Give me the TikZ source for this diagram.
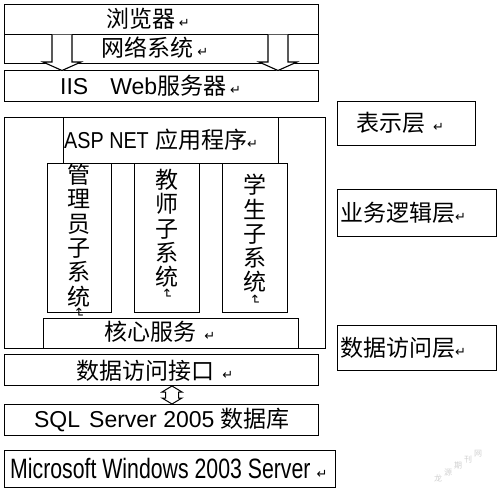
\documentclass[tikz,border=0pt]{standalone}
\usepackage{fontspec}
\setmainfont{Liberation Sans}
\newfontfamily\cjk{Noto Sans CJK SC}
\newfontfamily\dvs{DejaVu Sans}
\usetikzlibrary{positioning}
\newcommand{\rmk}{{\dvs\fontsize{13}{13}\selectfont ↵}}
\newcommand{\vrmk}{\rotatebox{-90}{\dvs\fontsize{13}{13}\selectfont ↵}}
\newcommand{\mkbox}[5]{\node[box, minimum width=#4pt-#2pt, minimum height=#5pt-#3pt] (#1) at (#2,#3) {};}
\begin{document}
\begin{tikzpicture}[x=1pt,y=-1pt,
  box/.style={draw, line width=1.1pt, inner sep=0pt, anchor=north west, fill=white},
  lbl/.style={inner sep=0pt, font=\fontsize{23}{24}\selectfont},
  vlbl/.style={inner sep=0pt, align=center, font=\cjk\fontsize{23}{24.3}\selectfont},
  wmk/.style={inner sep=0pt, text=black!18, font=\cjk\fontsize{8}{8}\selectfont},
  harrow/.style={line width=1.1pt, line join=miter}]
\useasboundingbox (0,0) rectangle (500,492);
\fill[white] (0,0) rectangle (500,492);
% top stack
\mkbox{browser}{4}{4}{318}{34}
\mkbox{net}{4}{34}{318}{63}
\mkbox{iis}{4}{70}{318}{101}
\node[lbl] (tbrowser) at (148,19) {{\cjk 浏览器}\,\rmk};
\node[lbl] (tnet) at (155,48) {{\cjk 网络系统}\,\rmk};
\node[lbl, anchor=west] (tiis) at (60,86) {IIS\hspace{22pt}Web{\cjk 服务器}\,\rmk};
% hollow arrows
\foreach \c/\n in {62/a1,278/a2}{
  \fill[white] (\c-10,34.6) -- (\c-10,62) -- (\c-19,62) -- (\c,71) -- (\c+19,62) -- (\c+10,62) -- (\c+10,34.6) -- cycle;
  \draw[harrow] (\c-10,34.6) -- (\c-10,62) -- (\c-19,62) -- (\c,70.5) -- (\c+19,62) -- (\c+10,62) -- (\c+10,34.6);
}
% business block
\mkbox{outer}{4}{117}{325}{348}
\mkbox{asp}{63}{117}{278}{163}
\node[lbl, anchor=west] (tasp) at (64,140) {\scalebox{0.86}[1]{ASP NET} {\cjk 应用程序}\rmk};
\mkbox{admin}{47}{163}{111}{312}
\mkbox{teacher}{134}{163}{199}{312}
\mkbox{student}{222}{163}{287}{312}
\node[vlbl, anchor=north] (tadmin) at (79,164) {管\\理\\员\\子\\系\\统};
\node[inner sep=0pt] (madmin) at (79,313) {\vrmk};
\node[vlbl, anchor=north] (tteacher) at (167,169) {教\\师\\子\\系\\统};
\node[inner sep=0pt, below=1pt of tteacher] (mteacher) {\vrmk};
\node[vlbl, anchor=north] (tstudent) at (255,174) {学\\生\\子\\系\\统};
\node[inner sep=0pt, below=1pt of tstudent] (mstudent) {\vrmk};
\mkbox{core}{43}{318}{298}{348}
\node[lbl] (tcore) at (160,332) {{\cjk 核心服务}\,\,\rmk};
% data access
\mkbox{dai}{4}{354}{318}{385}
\node[lbl] (tdai) at (155,371) {{\cjk 数据访问接口}\,\,\rmk};
\mkbox{sql}{4}{404}{318}{435}
\node[lbl] (tsql) at (162,420) {SQL\hspace{9pt}Server 2005 {\cjk 数据库}};
% double hollow arrow
\fill[white] (165.5,392) -- (162,392) -- (172,386) -- (182,392) -- (178.5,392) -- (178.5,398) -- (182,398) -- (172,404) -- (162,398) -- (165.5,398) -- cycle;
\draw[harrow, line width=1pt] (165.5,392) -- (162,392) -- (172,386) -- (182,392) -- (178.5,392) -- (178.5,398) -- (182,398) -- (172,404) -- (162,398) -- (165.5,398) -- cycle;
\mkbox{os}{4}{450}{335}{487}
\node[lbl, anchor=west] (tos) at (10,468) {\fontsize{28}{28}\selectfont\scalebox{0.76}[1]{Microsoft Windows 2003 Server}\hspace{6pt}\rmk};
% right-hand layer labels
\mkbox{lpres}{337}{101}{475}{145}
\node[lbl] (tpres) at (400,123) {{\cjk 表示层}\hspace{8pt}\rmk};
\mkbox{lbiz}{337}{189}{496}{236}
\node[lbl, anchor=west] (tbiz) at (340,213) {{\cjk 业务逻辑层}\rmk};
\mkbox{ldata}{337}{325}{496}{370}
\node[lbl, anchor=west] (tdata) at (340,348) {{\cjk 数据访问层}\rmk};
% watermark, set along a rising diagonal
\node[wmk] (wm1) at (438,478) {龙};
\node[wmk] (wm2) at (448,472) {源};
\node[wmk] (wm3) at (458,466) {期};
\node[wmk] (wm4) at (468,460) {刊};
\node[wmk] (wm5) at (478,454) {网};
\end{tikzpicture}
\end{document}
